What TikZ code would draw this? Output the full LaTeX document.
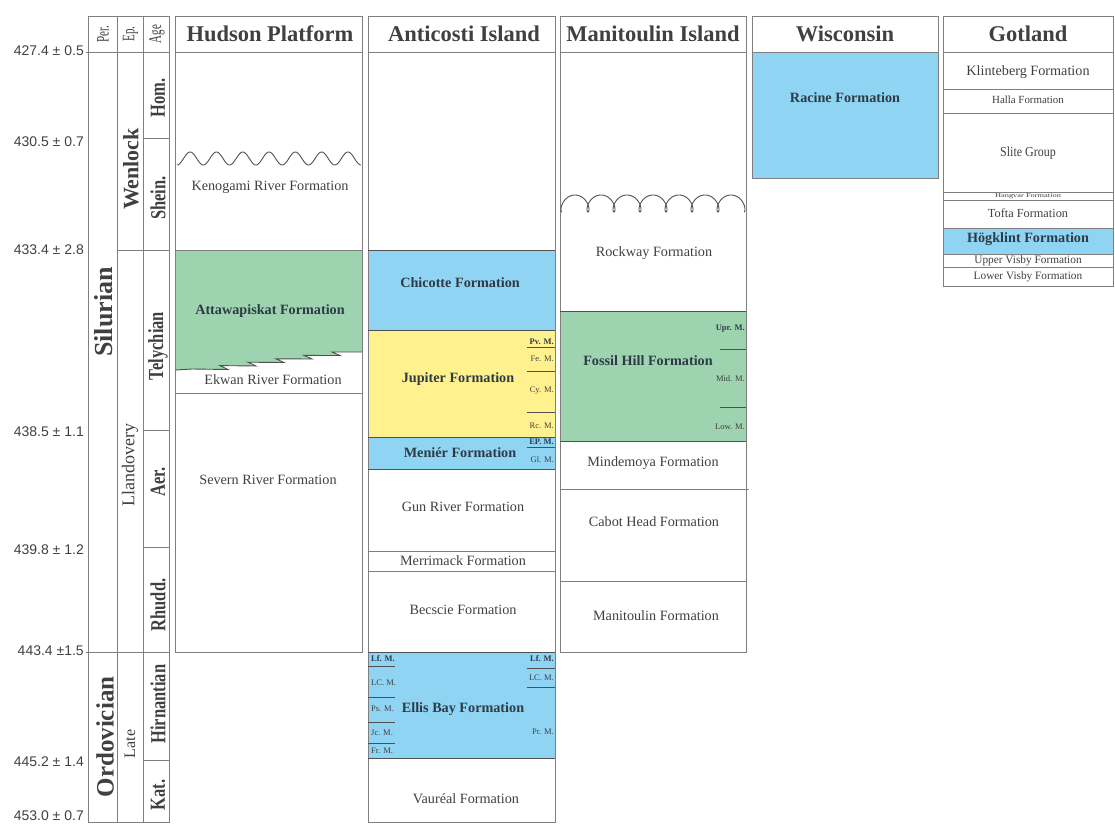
\documentclass[tikz,border=0pt]{standalone}
\usepackage{fontspec}
\setmainfont{Liberation Serif}
\newfontfamily\numfont{Liberation Sans}
\definecolor{lgray}{HTML}{7F7F7F}
\definecolor{dgray}{HTML}{505050}
\definecolor{tgray}{HTML}{404040}
\definecolor{btext}{HTML}{2E3B47}
\definecolor{fblue}{HTML}{8FD4F3}
\definecolor{fgreen}{HTML}{9DD3AF}
\definecolor{fyellow}{HTML}{FFF28E}
\begin{document}
\begin{tikzpicture}[x=1pt,y=-1pt,
  frame/.style={draw=lgray, line width=1pt},
  sep/.style={draw=lgray, line width=0.9pt},
  dsep/.style={draw=dgray, line width=0.9pt},
  wave/.style={draw=dgray, line width=0.9pt},
  hdr/.style={font=\fontsize{22.5}{24}\selectfont\bfseries, text=tgray, inner sep=0pt},
  fm/.style={font=\fontsize{14.2}{16}\selectfont, text=tgray, inner sep=0pt},
  fmb/.style={font=\fontsize{14.2}{16}\selectfont\bfseries, text=btext, inner sep=0pt},
  mem/.style={font=\fontsize{8.5}{9}\selectfont, text=tgray, inner sep=0pt},
  memb/.style={font=\fontsize{8.5}{9}\selectfont\bfseries, text=btext, inner sep=0pt},
  agel/.style={font=\numfont\fontsize{14}{16}\selectfont, text=tgray, anchor=east, inner sep=0pt},
  rot/.style={rotate=90, inner sep=0pt, text=tgray},
]
\useasboundingbox (0,0) rectangle (1115,825);

% ---------- time scale column ----------
\draw[frame] (88,16) rectangle (169,822);
\draw[sep] (117,16) -- (117,822);
\draw[sep] (143,16) -- (143,822);
\draw[sep] (86,52) -- (169,52);
\draw[sep] (86,652) -- (169,652);
\draw[sep] (117,250) -- (169,250);
\draw[sep] (143,138) -- (169,138);
\draw[sep] (143,430) -- (169,430);
\draw[sep] (143,547) -- (169,547);
\draw[sep] (143,760) -- (169,760);

\node[rot] (hper) at (103,34) {\scalebox{1}[1.6]{\fontsize{11}{12}\selectfont Per.}};
\node[rot] (hep) at (130.5,34) {\scalebox{1}[1.6]{\fontsize{11}{12}\selectfont Ep.}};
\node[rot] (hage) at (157,34) {\scalebox{1}[1.6]{\fontsize{11}{12}\selectfont Age}};

\node[rot] (silurian) at (104,312) {\fontsize{26}{28}\selectfont\bfseries Silurian};
\node[rot] (ordovician) at (105,737) {\fontsize{25}{27}\selectfont\bfseries Ordovician};
\node[rot] (wenlock) at (131,169) {\fontsize{22}{24}\selectfont\bfseries Wenlock};
\node[rot] (llandovery) at (130,465) {\fontsize{18}{20}\selectfont Llandovery};
\node[rot] (late) at (130,744) {\fontsize{16}{18}\selectfont Late};

\node[rot] (hom) at (158,98) {\scalebox{1}[1.3]{\fontsize{16.5}{18}\selectfont\bfseries Hom.}};
\node[rot] (shein) at (158,198) {\scalebox{1}[1.3]{\fontsize{16.5}{18}\selectfont\bfseries Shein.}};
\node[rot] (tely) at (158,346) {\scalebox{1}[1.3]{\fontsize{16.5}{18}\selectfont\bfseries Telychian}};
\node[rot] (aer) at (158,482) {\scalebox{1}[1.3]{\fontsize{16.5}{18}\selectfont\bfseries Aer.}};
\node[rot] (rhudd) at (158,605) {\scalebox{1}[1.3]{\fontsize{16.5}{18}\selectfont\bfseries Rhudd.}};
\node[rot] (hirn) at (158,704) {\scalebox{1}[1.3]{\fontsize{16.5}{18}\selectfont\bfseries Hirnantian}};
\node[rot] (kat) at (158,795) {\scalebox{1}[1.3]{\fontsize{16.5}{18}\selectfont\bfseries Kat.}};

\node[agel] (t1) at (84,51) {427.4 ± 0.5};
\node[agel] (t2) at (84,142) {430.5 ± 0.7};
\node[agel] (t3) at (84,250) {433.4 ± 2.8};
\node[agel] (t4) at (84,432) {438.5 ± 1.1};
\node[agel] (t5) at (84,550) {439.8 ± 1.2};
\node[agel] (t6) at (84,651) {443.4 ±1.5};
\node[agel] (t7) at (84,762) {445.2 ± 1.4};
\node[agel] (t8) at (84,816) {453.0 ± 0.7};

% ---------- Hudson Platform ----------
\fill[fgreen] (175,250) -- (362,250) -- (362,352) -- (332,352)
  -- (340,355.5) -- (304,355.4) -- (312,359) -- (276,358.8) -- (284,362.5)
  -- (248,362.2) -- (256,366) -- (220,365.6) -- (228,369.5) -- (192,369) -- (175,370) -- cycle;
\draw[dsep] (175,370) -- (192,369) -- (228,369.5) -- (220,365.6) -- (256,366) -- (248,362.2)
  -- (284,362.5) -- (276,358.8) -- (312,359) -- (304,355.4) -- (340,355.5) -- (332,352) -- (362,352);
\draw[frame] (175,16) rectangle (362,52);
\draw[frame] (175,52) rectangle (362,652);
\draw[sep] (175,250) -- (362,250);
\draw[sep] (175,393) -- (362,393);
\draw[wave] plot[domain=177:361, samples=250] (\x, {158.5+6.5*cos((\x-177)/26.3*360)});
\node[hdr] (hudson) at (270,34) {Hudson Platform};
\node[fm] (kenogami) at (270,187) {Kenogami River Formation};
\node[fmb] (attawa) at (270,311) {Attawapiskat Formation};
\node[fm] (ekwan) at (273,380) {Ekwan River Formation};
\node[fm] (severn) at (268,480) {Severn River Formation};

% ---------- Anticosti Island ----------
\fill[fblue] (368,250) rectangle (555,330);
\fill[fyellow] (368,330) rectangle (555,437);
\fill[fblue] (368,437) rectangle (555,469);
\fill[fblue] (368,652) rectangle (555,758);
\draw[frame] (368,16) rectangle (555,52);
\draw[frame] (368,52) rectangle (555,822);
\draw[dsep] (368,250) -- (555,250);
\draw[dsep] (368,330) -- (555,330);
\draw[dsep] (368,437) -- (555,437);
\draw[dsep] (368,469) -- (555,469);
\draw[sep] (368,551) -- (555,551);
\draw[sep] (368,571) -- (555,571);
\draw[dsep] (368,652) -- (555,652);
\draw[dsep] (368,758) -- (555,758);
\foreach \yy in {347,371,412,447,668,687}
  \draw[dsep] (527,\yy) -- (555,\yy);
\foreach \yy in {666,697,722,743}
  \draw[dsep] (368,\yy) -- (395,\yy);
\node[hdr] (anticosti) at (464,34) {Anticosti Island};
\node[fmb] (chicotte) at (460,283) {Chicotte Formation};
\node[fmb] (jupiter) at (458,379) {Jupiter Formation};
\node[fmb] (menier) at (460,453) {Meniér Formation};
\node[fm] (gunriver) at (463,507) {Gun River Formation};
\node[fm] (merrimack) at (463,561) {Merrimack Formation};
\node[fm] (becscie) at (463,610) {Becscie Formation};
\node[fmb] (ellisbay) at (463,709) {Ellis Bay Formation};
\node[fm] (vaureal) at (466,799) {Vauréal Formation};
\node[memb, anchor=east] (pvm) at (554,342) {Pv. M.};
\node[mem, anchor=east] (fem) at (554,359) {Fe. M.};
\node[mem, anchor=east] (cym) at (554,391) {Cy. M.};
\node[mem, anchor=east] (rcm) at (554,426) {Rc. M.};
\node[memb, anchor=east] (epm) at (554,442) {EP. M.};
\node[mem, anchor=east] (glm) at (554,460) {Gl. M.};
\node[memb, anchor=east] (lfmr) at (554,659) {Lf. M.};
\node[mem, anchor=east] (lcmr) at (554,678) {LC. M.};
\node[mem, anchor=east] (prm) at (554,732) {Pr. M.};
\node[memb, anchor=west] (lfml) at (371,659) {Lf. M.};
\node[mem, anchor=west] (lcml) at (371,683) {LC. M.};
\node[mem, anchor=west] (psm) at (371,709) {Ps. M.};
\node[mem, anchor=west] (jcm) at (371,733) {Jc. M.};
\node[mem, anchor=west] (frm) at (371,751) {Fr. M.};

% ---------- Manitoulin Island ----------
\fill[fgreen] (560,311) rectangle (746,441);
\draw[frame] (560,16) rectangle (746,52);
\draw[frame] (560,52) rectangle (746,652);
\draw[dsep] (560,311) -- (746,311);
\draw[dsep] (560,441) -- (746,441);
\draw[sep] (560,489) -- (749,489);
\draw[sep] (560,581) -- (746,581);
\draw[dsep] (720,349) -- (746,349);
\draw[dsep] (720,407) -- (746,407);
\draw[wave] plot[domain=0:2520, samples=500, variable=\t] ({562+\t/360*26-6*sin(\t)}, {203.5+8.5*cos(\t)});
\node[hdr] (manitoulin) at (653,34) {Manitoulin Island};
\node[fm] (rockway) at (654,253) {Rockway Formation};
\node[fmb] (fossilhill) at (648,361) {Fossil Hill Formation};
\node[fm] (mindemoya) at (653,463) {Mindemoya Formation};
\node[fm] (cabothead) at (654,522) {Cabot Head Formation};
\node[fm] (manitoulinfm) at (656,616) {Manitoulin Formation};
\node[memb, anchor=east] (uprm) at (745,329) {Upr. M.};
\node[mem, anchor=east] (midm) at (745,379) {Mid. M.};
\node[mem, anchor=east] (lowm) at (745,427) {Low. M.};

% ---------- Wisconsin ----------
\draw[frame] (752,16) rectangle (938,52);
\fill[fblue] (752,52) rectangle (938,178);
\draw[frame] (752,52) rectangle (938,178);
\node[hdr] (wisconsin) at (845,34) {Wisconsin};
\node[fmb] (racine) at (845,98) {Racine Formation};

% ---------- Gotland ----------
\fill[fblue] (943,228) rectangle (1113,254);
\draw[frame] (943,16) rectangle (1113,286);
\foreach \yy in {52,89,113,192,200,228,254,267}
  \draw[sep] (943,\yy) -- (1113,\yy);
\node[hdr] (gotland) at (1028,34) {Gotland};
\node[fm] (klinteberg) at (1028,72) {Klinteberg Formation};
\node[fm, font=\fontsize{10.9}{12}\selectfont] (halla) at (1028,100) {Halla Formation};
\node[fm] (slite) at (1028,153) {\scalebox{1}[1.15]{\fontsize{12}{13}\selectfont Slite Group}};
\node[fm] (hangvar) at (1028,196.3) {\scalebox{1.4}[1]{\fontsize{6}{6}\selectfont Hangvar Formation}};
\node[fm, font=\fontsize{12.3}{13}\selectfont] (tofta) at (1028,213) {Tofta Formation};
\node[fmb] (hogklint) at (1028,239) {Högklint Formation};
\node[fm, font=\fontsize{11.3}{12}\selectfont] (uvisby) at (1028,260.5) {Upper Visby Formation};
\node[fm, font=\fontsize{11.3}{12}\selectfont] (lvisby) at (1028,277) {Lower Visby Formation};
\end{tikzpicture}
\end{document}
